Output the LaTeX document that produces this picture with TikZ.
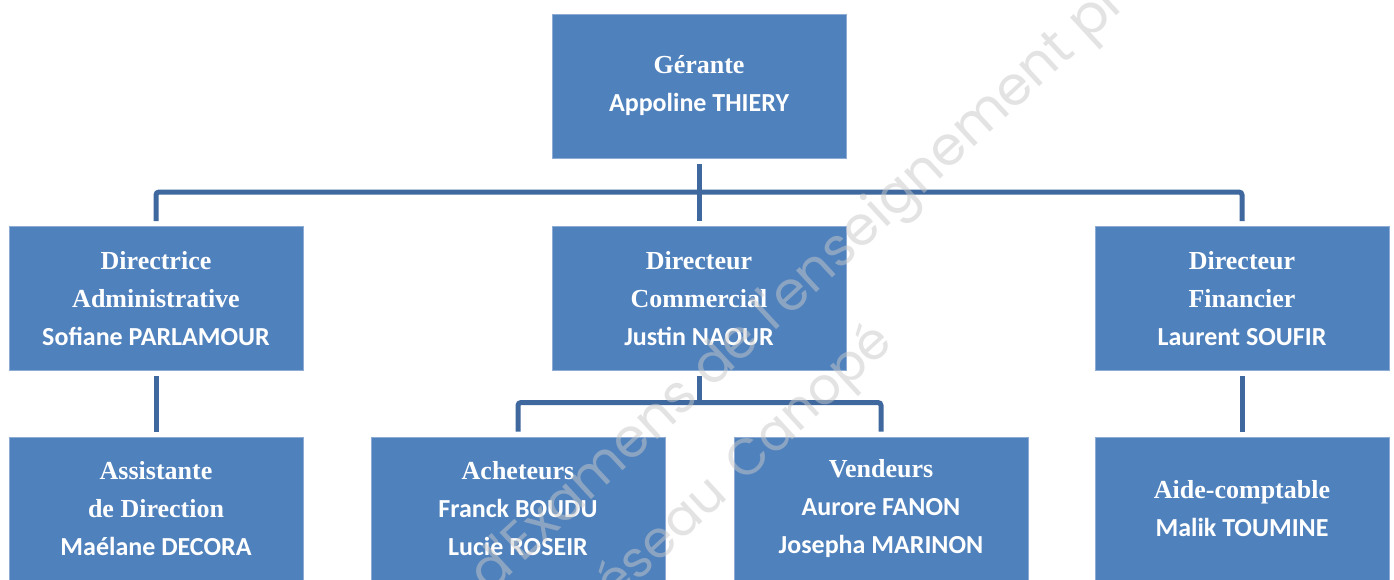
\documentclass[tikz,border=0pt]{standalone}
\usepackage{fontspec}
\newfontfamily\titlef{Liberation Serif}
\newfontfamily\namef{Carlito}
\newfontfamily\wmf{Poppins}
\definecolor{boxfill}{RGB}{79,129,189}
\definecolor{boxedge}{RGB}{140,172,214}
\definecolor{conncol}{RGB}{62,104,158}
\definecolor{wmcol}{RGB}{200,200,200}
\tikzset{
  orgbox/.style={rectangle, fill=boxfill, draw=boxedge, line width=1pt,
    minimum width=294pt, minimum height=144pt, inner sep=0pt,
    align=center, text=white, font=\fontsize{26}{38}\selectfont},
  conn/.style={draw=conncol, line width=5pt, rounded corners=3pt},
  wm/.style={text=wmcol, opacity=0.5, font=\wmf\fontsize{54}{62}\selectfont,
    rotate=42.7, anchor=base west, inner sep=0pt}
}
\newcommand{\ttl}[1]{{\titlef\bfseries #1}}
\newcommand{\nm}[1]{{\namef\bfseries #1}}
\begin{document}
\begin{tikzpicture}[x=1pt,y=-1pt]
\clip (0,0) rectangle (1394,579);
\fill[white] (0,0) rectangle (1394,579);
% boxes
\node[orgbox] (g) at (699,86) {\ttl{Gérante}\\\nm{Appoline THIERY}};
\node[orgbox] (d1) at (156,298.5) {\ttl{Directrice}\\\ttl{Administrative}\\\nm{Sofiane PARLAMOUR}};
\node[orgbox] (d2) at (699,298.5) {\ttl{Directeur}\\\ttl{Commercial}\\\nm{Justin NAOUR}};
\node[orgbox] (d3) at (1242,298.5) {\ttl{Directeur}\\\ttl{Financier}\\\nm{Laurent SOUFIR}};
\node[orgbox] (e1) at (156,509) {\ttl{Assistante}\\\ttl{de Direction}\\\nm{Maélane DECORA}};
\node[orgbox] (e2) at (518,509) {\ttl{Acheteurs}\\\nm{Franck BOUDU}\\\nm{Lucie ROSEIR}};
\node[orgbox] (e3) at (881,509) {\ttl{Vendeurs}\\\nm{Aurore FANON}\\\nm{Josepha MARINON}};
\node[orgbox] (e4) at (1242,509) {\ttl{Aide-comptable}\\\nm{Malik TOUMINE}};
% connectors
\draw[conn] ([yshift=-5pt]g.south) -- ([yshift=5pt]d2.north);
\draw[conn] ([yshift=5pt]d1.north) -- ([yshift=34pt]d1.north) -- ([yshift=34pt]d3.north) -- ([yshift=5pt]d3.north);
\draw[conn] ([yshift=-5pt]d1.south) -- ([yshift=5pt]e1.north);
\draw[conn] ([yshift=-5pt]d2.south) -- ([yshift=-33pt]d2.south);
\draw[conn] ([yshift=5pt]e2.north) -- ([yshift=34pt]e2.north) -- ([yshift=34pt]e3.north) -- ([yshift=5pt]e3.north);
\draw[conn] ([yshift=-5pt]d3.south) -- ([yshift=5pt]e4.north);
% watermark
\node[wm] (wm1) at (711,390) {\llap{d'Examens }de l'enseignement professionnel};
\node[wm, font=\wmf\fontsize{51}{60}\selectfont] (wm2) at (744,484) {\llap{Réseau\hspace{6pt} }Canopé};
\end{tikzpicture}
\end{document}
